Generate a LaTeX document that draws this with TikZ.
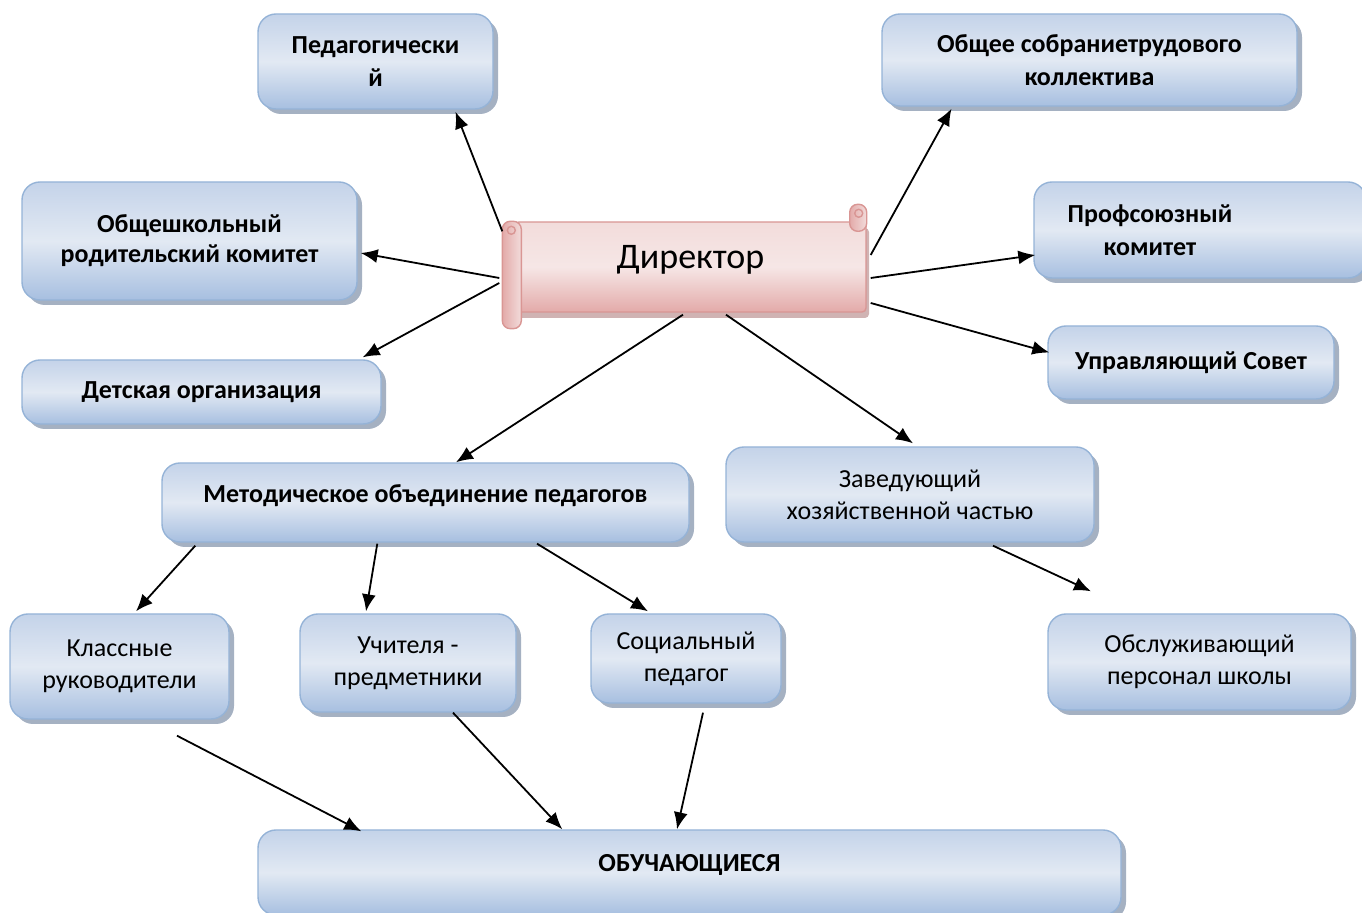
\documentclass[tikz,border=0pt]{standalone}
\usepackage{fontspec}
\setmainfont{Carlito}
\usetikzlibrary{arrows.meta,shadows}

\definecolor{boxline}{HTML}{95B3D7}
\definecolor{boxtop}{HTML}{C4D3E9}
\definecolor{boxmid}{HTML}{E2E9F3}
\definecolor{boxbot}{HTML}{A7BFE0}
\definecolor{boxshadow}{HTML}{8E9DB3}
\definecolor{pinkline}{HTML}{D99694}
\definecolor{pinktop}{HTML}{F2DCDB}
\definecolor{pinkbot}{HTML}{E3AAA9}
\definecolor{pinkshadow}{HTML}{C4A0A0}

\tikzset{
  box/.style={draw=boxline, line width=0.7pt, rounded corners=9pt,
    top color=boxtop, bottom color=boxbot, middle color=boxmid,
    drop shadow={shadow xshift=2.5pt, shadow yshift=-2.5pt, fill=boxshadow, opacity=0.8},
    align=center, inner sep=2pt, font=\fontsize{13}{16}\selectfont},
  boldbox/.style={box, font=\fontsize{13}{16.5}\selectfont\bfseries},
  scroll/.style={draw=pinkline, line width=0.7pt, rounded corners=2pt,
    top color=pinktop, bottom color=pinkbot, middle color=pinktop!70!white,
    drop shadow={shadow xshift=1.5pt, shadow yshift=-3pt, fill=pinkshadow, opacity=0.8},
    font=\fontsize{18}{22}\selectfont},
  roll/.style={draw=pinkline, line width=0.7pt, rounded corners=4pt,
    left color=pinkbot, right color=pinktop},
  arr/.style={-{Latex[length=8.5pt,width=7pt]}, line width=0.9pt}
}

\begin{document}
\begin{tikzpicture}[x=0.5pt,y=-0.5pt]
\useasboundingbox (0,0) rectangle (1362,913);

\node[boldbox, minimum width=117.5pt, minimum height=47.5pt] (ped) at (375.5,61.5) {Педагогически\\й};
\node[boldbox, minimum width=207.5pt, minimum height=46pt] (obsh) at (1089.5,60) {Общее собраниетрудового\\коллектива};
\node[boldbox, minimum width=167.5pt, minimum height=59pt] (rod) at (189.5,241) {\raisebox{2.5pt}{\shortstack{Общешкольный\\[1pt]родительский комитет}}};
\node[box, minimum width=166pt, minimum height=48pt,
  label={[font=\fontsize{13}{16.5}\selectfont\bfseries, align=center, xshift=-25pt]center:Профсоюзный\\комитет}] (prof) at (1200,230) {};
\node[boldbox, minimum width=143pt, minimum height=36.5pt] (upr) at (1191,362.5) {Управляющий Совет};
\node[boldbox, minimum width=179.5pt, minimum height=32pt] (det) at (201.5,392) {Детская организация};

\node[scroll, minimum width=175.5pt, minimum height=45pt] (dir) at (690.5,267) {\raisebox{-1pt}[0pt][0pt]{Директор}};
\draw[roll] ([shift={(-17,-17)}]dir.north east) rectangle ([shift={(0,10)}]dir.north east);
\draw[pinkline, line width=0.7pt] ([shift={(-8,-8)}]dir.north east) circle (4);
\draw[roll] ([shift={(-12,0)}]dir.north west) rectangle ([shift={(7,16)}]dir.south west);
\draw[pinkline, line width=0.7pt] ([shift={(-3,9)}]dir.north west) circle (4);

\node[boldbox, minimum width=263.5pt, minimum height=39.5pt] (met) at (425.5,502.5) {\raisebox{0pt}[0pt][0pt]{Методическое объединение педагогов}};
\node[box, minimum width=184pt, minimum height=47.5pt] (zav) at (910,494.5) {Заведующий\\хозяйственной частью};

\node[box, minimum width=109.5pt, minimum height=52.5pt] (kl) at (119.5,666.5) {Классные\\руководители};
\node[box, minimum width=108pt, minimum height=49pt] (uch) at (408,663) {Учителя -\\предметники};
\node[box, minimum width=95pt, minimum height=44.5pt] (soc) at (686,658.5) {Социальный\\педагог};
\node[box, minimum width=151.5pt, minimum height=48pt] (obsl) at (1199.5,662) {Обслуживающий\\персонал школы};

\node[boldbox, minimum width=431.5pt, minimum height=42.5pt] (obuch) at (689.5,872.5) {\raisebox{0.5pt}[0pt][0pt]{ОБУЧАЮЩИЕСЯ}};

\draw[arr] ([shift={(-12,10)}]dir.north west) -- ([shift={(80,2)}]ped.south);
\draw[arr] ([shift={(4,-12)}]dir.east) -- ([shift={(-138,2)}]obsh.south);
\draw[arr] ([shift={(-15,11)}]dir.west) -- ([shift={(3,12)}]rod.east);
\draw[arr] ([shift={(4,11)}]dir.east) -- ([shift={(2,25)}]prof.west);
\draw[arr] ([shift={(-15,16)}]dir.west) -- ([shift={(-19,-2)}]det.north east);
\draw[arr] ([shift={(4,36)}]dir.east) -- ([shift={(2,-10)}]upr.west);
\draw[arr] ([shift={(-7.5,2)}]dir.south) -- ([shift={(30.5,0)}]met.north);
\draw[arr] ([shift={(35.5,2)}]dir.south) -- ([shift={(3,-3)}]zav.north);

\draw[arr] ([shift={(34,3)}]met.south west) -- ([shift={(16.5,-2)}]kl.north);
\draw[arr] ([shift={(216,1)}]met.south west) -- ([shift={(-42,-2)}]uch.north);
\draw[arr] ([shift={(111.5,1)}]met.south) -- ([shift={(-38,-2)}]soc.north);
\draw[arr] ([shift={(83,3)}]zav.south) -- ([shift={(-108.5,-22)}]obsl.north);

\draw[arr] ([shift={(57.5,16)}]kl.south) -- ([shift={(104,2)}]obuch.north west);
\draw[arr] ([shift={(45,0)}]uch.south) -- ([shift={(305,0)}]obuch.north west);
\draw[arr] ([shift={(17,9)}]soc.south) -- ([shift={(-12.5,0)}]obuch.north);
\end{tikzpicture}
\end{document}
